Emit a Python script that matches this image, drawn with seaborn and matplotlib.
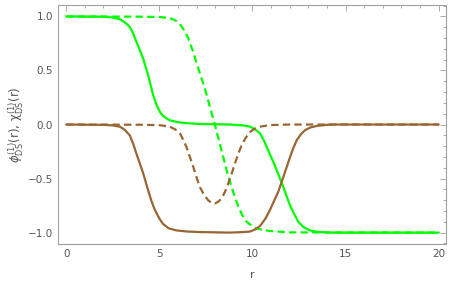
import numpy as np
import matplotlib
matplotlib.use("Agg")
import matplotlib.pyplot as plt
from matplotlib.ticker import MultipleLocator
import seaborn as sns

# values
r_phi = [0, 2.0, 2.5, 2.88, 3.15, 3.41, 3.6, 3.77, 3.95, 4.13, 4.40, 4.67, 4.85, 5.03, 5.2,
         5.4, 5.56, 5.9, 6.28, 7.18, 8.79, 9.5, 9.87, 10.15, 10.4, 10.62, 10.85, 11.08,
         11.3, 11.66, 12.02, 12.25, 12.46, 12.75, 13.09, 13.5, 14.17, 20]
phi_solid = [1.0, 0.998, 0.99, 0.975, 0.945, 0.904, 0.84, 0.765, 0.69, 0.611, 0.456, 0.271,
             0.18, 0.117, 0.08, 0.055, 0.04, 0.025, 0.015, 0.005, 0.0, -0.008, -0.02, -0.045,
             -0.08, -0.15, -0.24, -0.33, -0.42, -0.58, -0.75, -0.83, -0.90, -0.95, -0.98,
             -0.993, -1.0, -1.0]

r_chi = [0, 2.0, 2.5, 2.88, 3.15, 3.41, 3.6, 3.77, 3.95, 4.13, 4.40, 4.58, 4.76, 5.0, 5.2,
         5.5, 5.92, 6.5, 7.18, 8.79, 9.5, 9.87, 10.15, 10.4, 10.7, 10.94, 11.39, 11.66,
         12.02, 12.2, 12.38, 12.6, 12.82, 13.1, 13.45, 14.17, 20]
chi_solid = [0.0, -0.003, -0.008, -0.02, -0.05, -0.1, -0.18, -0.27, -0.36, -0.45, -0.61,
             -0.71, -0.79, -0.87, -0.92, -0.96, -0.98, -0.99, -0.995, -1.0, -0.995, -0.99,
             -0.97, -0.94, -0.87, -0.79, -0.62, -0.485, -0.30, -0.215, -0.145, -0.09,
             -0.053, -0.028, -0.013, 0.0, 0.0]

r_phi_d = [0, 4.0, 5.03, 5.56, 5.85, 6.1, 6.32, 6.55, 6.82, 7.09, 7.45, 7.72, 7.98, 8.25,
           8.61, 8.88, 9.24, 9.46, 9.69, 9.95, 10.2, 10.55, 10.94, 12.0, 20]
phi_dashed = [1.0, 0.998, 0.995, 0.985, 0.965, 0.93, 0.875, 0.80, 0.67, 0.52, 0.33, 0.16,
              0.0, -0.18, -0.42, -0.58, -0.76, -0.84, -0.90, -0.935, -0.96, -0.975, -0.985,
              -0.998, -1.0]

r_chi_d = [0, 4.0, 5.03, 5.56, 5.85, 6.1, 6.28, 6.46, 6.64, 6.82, 7.0, 7.18, 7.4, 7.62, 7.8,
           7.98, 8.16, 8.34, 8.52, 8.70, 8.88, 9.06, 9.24, 9.42, 9.65, 9.87, 10.1, 10.4,
           10.94, 12.0, 20]
chi_dashed = [0.0, -0.002, -0.006, -0.02, -0.045, -0.08, -0.14, -0.21, -0.30, -0.39, -0.49,
              -0.58, -0.65, -0.70, -0.725, -0.73, -0.715, -0.685, -0.625, -0.546, -0.455,
              -0.36, -0.27, -0.19, -0.12, -0.07, -0.04, -0.02, -0.005, 0.0, 0.0]

GREEN = "#00ff00"
BROWN = "#996633"
GRAY = "#a0a0a0"

sns.set_style("white")
plt.rcParams['font.family'] = ['DejaVu Sans']
plt.rcParams['mathtext.fontset'] = 'dejavusans'

fig = plt.figure(figsize=(4.52, 2.84), dpi=100)
ax = fig.add_axes([0.128, 0.141, 0.859, 0.841])

dash = (0, (3.3, 1.9))
sns.lineplot(x=r_phi, y=phi_solid, color=GREEN, lw=1.6, ax=ax, sort=False)
sns.lineplot(x=r_phi_d, y=phi_dashed, color=GREEN, lw=1.6, linestyle=dash, ax=ax, sort=False)
sns.lineplot(x=r_chi, y=chi_solid, color=BROWN, lw=1.6, ax=ax, sort=False)
sns.lineplot(x=r_chi_d, y=chi_dashed, color=BROWN, lw=1.6, linestyle=dash, ax=ax, sort=False)

ax.set_xlim(-0.45, 20.4)
ax.set_ylim(-1.105, 1.105)
ax.xaxis.set_major_locator(MultipleLocator(5))
ax.xaxis.set_minor_locator(MultipleLocator(1))
ax.yaxis.set_minor_locator(MultipleLocator(0.1))
ax.set_yticks([-1.0, -0.5, 0.0, 0.5, 1.0])
ax.set_yticklabels(["\u22121.0", "\u22120.5", "0.0", "0.5", "1.0"])

ax.tick_params(which='both', direction='in', top=True, right=True, color=GRAY,
               labelcolor="#555555", labelsize=7.5, width=0.6)
ax.tick_params(which='major', length=4)
ax.tick_params(which='minor', length=2)
for s in ax.spines.values():
    s.set_color(GRAY)
    s.set_linewidth(0.8)

ax.set_xlabel("r", color="#555555", fontsize=8, labelpad=8)
ax.set_ylabel(r"$\phi^{(1)}_{\rm DS}(\rm r),\,\chi^{(1)}_{\rm DS}(\rm r)$",
              color="#555555", fontsize=8.5, labelpad=1)

fig.savefig("out.png", dpi=100)
